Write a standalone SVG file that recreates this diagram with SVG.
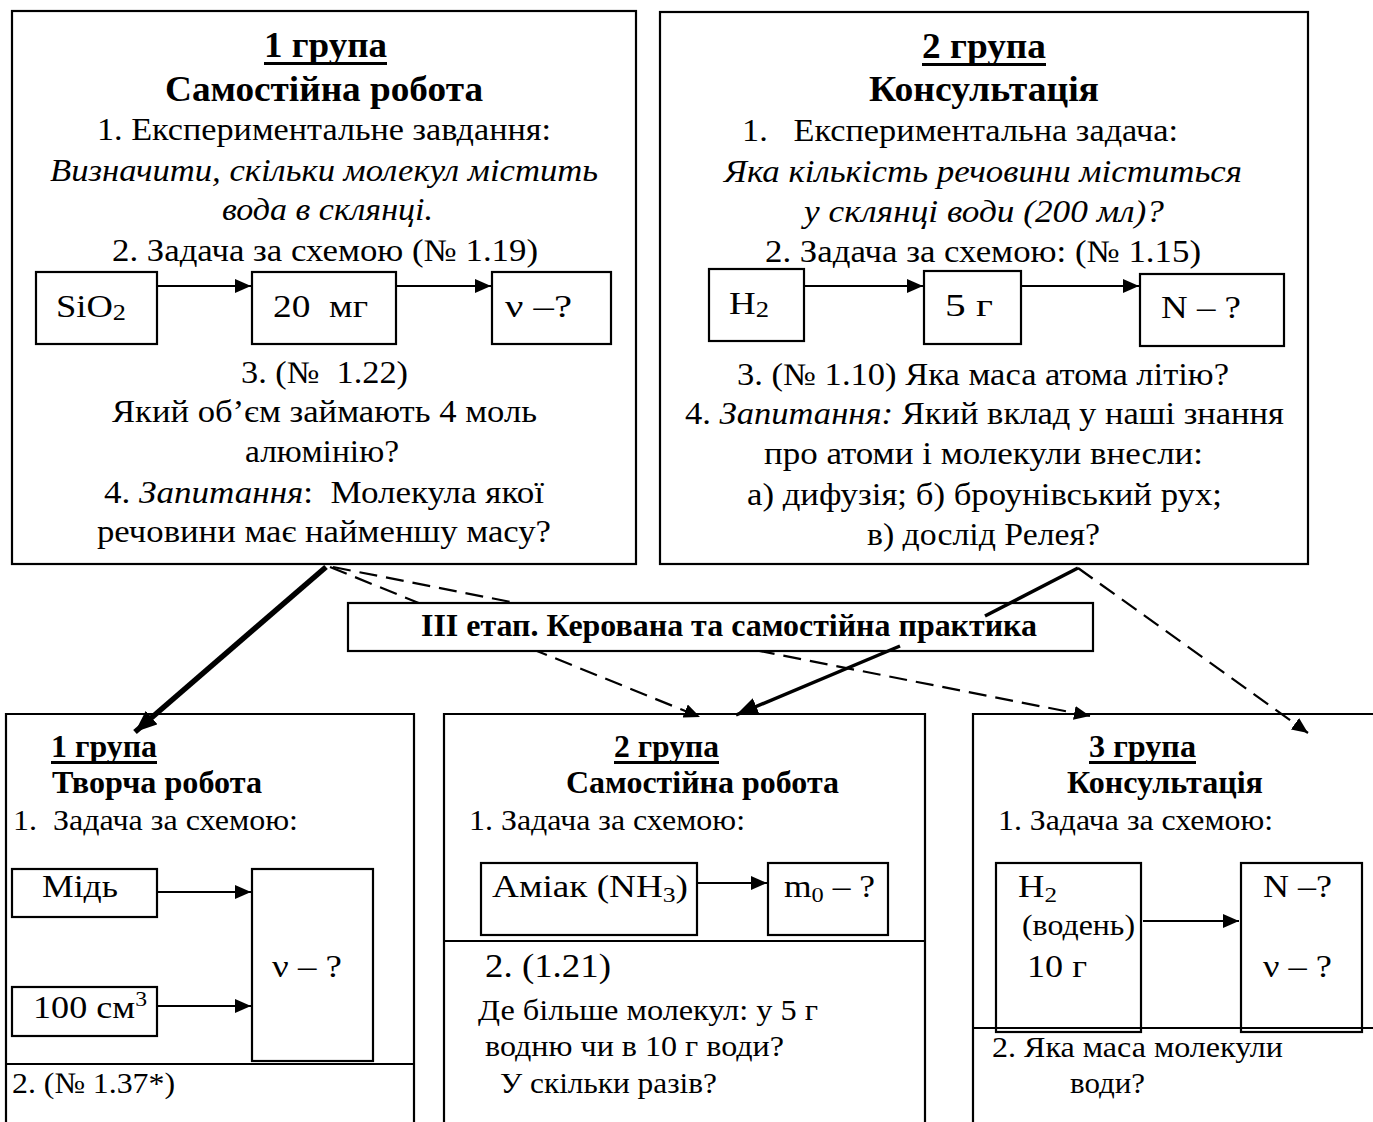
<svg xmlns="http://www.w3.org/2000/svg" width="1373" height="1122" viewBox="0 0 1373 1122">
<style>
text{font-family:"Liberation Serif","Times New Roman",serif;fill:#000}
.t{font-size:31px}
.tb{font-size:36px;font-weight:bold}
.b{font-size:31px;font-weight:bold}
.s{font-size:30px}
.k{font-size:32px}
.i{font-style:italic}
.box{fill:#fff;stroke:#000;stroke-width:2.2}
.ln{fill:none;stroke:#000;stroke-width:2.2}
.ul{stroke:#000;stroke-width:3}
.conn{fill:none;stroke:#000}
</style>
<defs>
<marker id="ah" markerUnits="userSpaceOnUse" markerWidth="18" markerHeight="14" refX="16" refY="7" orient="auto">
<path d="M0,0 L16,7 L0,14 Z" fill="#000"/>
</marker>
<marker id="ahb" markerUnits="userSpaceOnUse" markerWidth="24" markerHeight="18" refX="22" refY="9" orient="auto">
<path d="M0,0 L22,9 L0,18 Z" fill="#000"/>
</marker>
</defs>

<!-- Top box 1 -->
<g id="group1-top">
<rect class="box" x="12" y="11" width="624" height="553"/>
<text class="tb" x="264" y="57" font-size="37" textLength="123" lengthAdjust="spacingAndGlyphs">1 група</text>
<line class="ul" x1="264" y1="63.5" x2="387" y2="63.5"/>
<text class="tb" x="165" y="101" textLength="318" lengthAdjust="spacingAndGlyphs">Самостійна робота</text>
<text class="t" x="97" y="140" textLength="454" lengthAdjust="spacingAndGlyphs">1. Експериментальне завдання:</text>
<text class="t i" x="50" y="181" textLength="548" lengthAdjust="spacingAndGlyphs">Визначити, скільки молекул містить</text>
<text class="t i" x="222" y="220" textLength="211" lengthAdjust="spacingAndGlyphs">вода в склянці.</text>
<text class="t" x="112" y="261" textLength="426" lengthAdjust="spacingAndGlyphs">2. Задача за схемою (№ 1.19)</text>
<rect class="box" x="36" y="272" width="121" height="72"/>
<text class="k" x="56" y="317" textLength="70" lengthAdjust="spacingAndGlyphs">SiO<tspan font-size="23" dy="3">2</tspan></text>
<rect class="box" x="252" y="272" width="144" height="72"/>
<text class="k" x="273" y="317" xml:space="preserve" textLength="95" lengthAdjust="spacingAndGlyphs">20  мг</text>
<rect class="box" x="492" y="272" width="119" height="72"/>
<text class="k" x="505" y="317" textLength="67" lengthAdjust="spacingAndGlyphs">ν –?</text>
<line class="ln" x1="157" y1="286" x2="251" y2="286" marker-end="url(#ah)"/>
<line class="ln" x1="396" y1="286" x2="491" y2="286" marker-end="url(#ah)"/>
<text class="t" x="241" y="383" xml:space="preserve" textLength="167" lengthAdjust="spacingAndGlyphs">3. (№  1.22)</text>
<text class="t" x="112" y="422" textLength="425" lengthAdjust="spacingAndGlyphs">Який об’єм займають 4 моль</text>
<text class="t" x="245" y="462" textLength="154" lengthAdjust="spacingAndGlyphs">алюмінію?</text>
<text class="t" x="104" y="503" xml:space="preserve" textLength="440" lengthAdjust="spacingAndGlyphs">4. <tspan class="i">Запитання</tspan>:  Молекула якої</text>
<text class="t" x="97" y="542" textLength="454" lengthAdjust="spacingAndGlyphs">речовини має найменшу масу?</text>
</g>

<!-- Top box 2 -->
<g id="group2-top">
<rect class="box" x="660" y="12" width="648" height="552"/>
<text class="tb" x="922" y="58" font-size="37" textLength="124" lengthAdjust="spacingAndGlyphs">2 група</text>
<line class="ul" x1="922" y1="64.5" x2="1046" y2="64.5"/>
<text class="tb" x="869" y="101" textLength="230" lengthAdjust="spacingAndGlyphs">Консультація</text>
<text class="t" x="742" y="141" xml:space="preserve" textLength="436" lengthAdjust="spacingAndGlyphs">1.   Експериментальна задача:</text>
<text class="t i" x="724" y="182" textLength="518" lengthAdjust="spacingAndGlyphs">Яка кількість речовини міститься</text>
<text class="t i" x="804" y="222" textLength="360" lengthAdjust="spacingAndGlyphs">у склянці води (200 мл)?</text>
<text class="t" x="765" y="262" textLength="436" lengthAdjust="spacingAndGlyphs">2. Задача за схемою: (№ 1.15)</text>
<rect class="box" x="709" y="269" width="95" height="72"/>
<text class="k" x="729" y="314" textLength="40" lengthAdjust="spacingAndGlyphs">H<tspan font-size="23" dy="3">2</tspan></text>
<rect class="box" x="924" y="271" width="97" height="73"/>
<text class="k" x="945" y="316" textLength="48" lengthAdjust="spacingAndGlyphs">5 г</text>
<rect class="box" x="1140" y="274" width="144" height="72"/>
<text class="k" x="1161" y="318" textLength="80" lengthAdjust="spacingAndGlyphs">N – ?</text>
<line class="ln" x1="804" y1="286" x2="923" y2="286" marker-end="url(#ah)"/>
<line class="ln" x1="1021" y1="286" x2="1139" y2="286" marker-end="url(#ah)"/>
<text class="t" x="737" y="385" textLength="492" lengthAdjust="spacingAndGlyphs">3. (№ 1.10) Яка маса атома літію?</text>
<text class="t" x="685" y="424" textLength="599" lengthAdjust="spacingAndGlyphs">4. <tspan class="i">Запитання:</tspan> Який вклад у наші знання</text>
<text class="t" x="764" y="464" textLength="439" lengthAdjust="spacingAndGlyphs">про атоми і молекули внесли:</text>
<text class="t" x="747" y="505" textLength="475" lengthAdjust="spacingAndGlyphs">а) дифузія; б) броунівський рух;</text>
<text class="t" x="867" y="545" textLength="233" lengthAdjust="spacingAndGlyphs">в) дослід Релея?</text>
</g>

<!-- Connectors (dashed, behind banner) -->
<g id="connectors-back">
<line class="conn" x1="330" y1="567" x2="700" y2="717" stroke-width="2.2" stroke-dasharray="18 9" marker-end="url(#ah)"/>
<line class="conn" x1="333" y1="567" x2="1090" y2="716" stroke-width="2.2" stroke-dasharray="18 9" marker-end="url(#ah)"/>
</g>

<!-- Banner -->
<g id="stage-banner">
<rect class="box" x="348" y="603" width="745" height="48"/>
<text x="421" y="636" font-size="32" font-weight="bold" textLength="616" lengthAdjust="spacingAndGlyphs">ІІІ етап. Керована та самостійна практика</text>
</g>

<!-- Connectors (front) -->
<g id="connectors">
<line class="conn" x1="326" y1="567" x2="135" y2="732" stroke-width="5.5" marker-end="url(#ahb)"/>
<line class="conn" x1="1078" y1="568" x2="985" y2="616" stroke-width="3.5"/>
<line class="conn" x1="900" y1="646" x2="736" y2="715" stroke-width="3.5" marker-end="url(#ahb)"/>
<line class="conn" x1="1078" y1="568" x2="1308" y2="733" stroke-width="2.2" stroke-dasharray="18 9" marker-end="url(#ah)"/>
</g>

<!-- Bottom box A -->
<g id="group1-bottom">
<path class="ln" d="M6,1122 V714 H414 V1122"/>
<line class="ln" x1="6" y1="1064" x2="414" y2="1064"/>
<text class="b" x="51" y="757" textLength="106" lengthAdjust="spacingAndGlyphs">1 група</text>
<line class="ul" x1="51" y1="762.5" x2="157" y2="762.5" stroke-width="2.5"/>
<text class="b" x="52" y="793" textLength="210" lengthAdjust="spacingAndGlyphs">Творча робота</text>
<text class="s" x="13" y="830" xml:space="preserve" textLength="285" lengthAdjust="spacingAndGlyphs">1.  Задача за схемою:</text>
<rect class="box" x="12" y="869" width="145" height="48"/>
<text class="k" x="42" y="897" textLength="76" lengthAdjust="spacingAndGlyphs">Мідь</text>
<rect class="box" x="12" y="987" width="145" height="49"/>
<text class="k" x="33" y="1018" textLength="114" lengthAdjust="spacingAndGlyphs">100 см<tspan font-size="21" dy="-12">3</tspan></text>
<rect class="box" x="252" y="869" width="121" height="192"/>
<text class="k" x="272" y="977" textLength="70" lengthAdjust="spacingAndGlyphs">ν – ?</text>
<line class="ln" x1="157" y1="892" x2="251" y2="892" marker-end="url(#ah)"/>
<line class="ln" x1="157" y1="1006" x2="251" y2="1006" marker-end="url(#ah)"/>
<text class="s" x="12" y="1093" textLength="163" lengthAdjust="spacingAndGlyphs">2. (№ 1.37*)</text>
</g>

<!-- Bottom box B -->
<g id="group2-bottom">
<path class="ln" d="M444,1122 V714 H925 V1122"/>
<line class="ln" x1="444" y1="941" x2="925" y2="941"/>
<text class="b" x="614" y="757" textLength="105" lengthAdjust="spacingAndGlyphs">2 група</text>
<line class="ul" x1="614" y1="762.5" x2="719" y2="762.5" stroke-width="2.5"/>
<text class="b" x="566" y="793" textLength="273" lengthAdjust="spacingAndGlyphs">Самостійна робота</text>
<text class="s" x="469" y="830" textLength="276" lengthAdjust="spacingAndGlyphs">1. Задача за схемою:</text>
<rect class="box" x="481" y="863" width="216" height="72"/>
<text class="k" x="492" y="897" textLength="196" lengthAdjust="spacingAndGlyphs">Аміак (NH<tspan font-size="22" dy="5">3</tspan><tspan dy="-5">)</tspan></text>
<rect class="box" x="768" y="863" width="120" height="72"/>
<text class="k" x="784" y="897" textLength="91" lengthAdjust="spacingAndGlyphs">m<tspan font-size="22" dy="5">0</tspan><tspan dy="-5"> – ?</tspan></text>
<line class="ln" x1="697" y1="883" x2="767" y2="883" marker-end="url(#ah)"/>
<text x="485" y="977" font-size="34" textLength="126" lengthAdjust="spacingAndGlyphs">2. (1.21)</text>
<text class="s" x="478" y="1020" textLength="340" lengthAdjust="spacingAndGlyphs">Де більше молекул: у 5 г</text>
<text class="s" x="485" y="1056" textLength="299" lengthAdjust="spacingAndGlyphs">водню чи в 10 г води?</text>
<text class="s" x="500" y="1093" textLength="217" lengthAdjust="spacingAndGlyphs">У скільки разів?</text>
</g>

<!-- Bottom box C -->
<g id="group3-bottom">
<path class="ln" d="M973,1122 V714 H1373"/>
<line class="ln" x1="973" y1="1028" x2="1373" y2="1028"/>
<text class="b" x="1089" y="757" textLength="107" lengthAdjust="spacingAndGlyphs">3 група</text>
<line class="ul" x1="1089" y1="762.5" x2="1196" y2="762.5" stroke-width="2.5"/>
<text class="b" x="1067" y="793" textLength="196" lengthAdjust="spacingAndGlyphs">Консультація</text>
<text class="s" x="998" y="830" textLength="275" lengthAdjust="spacingAndGlyphs">1. Задача за схемою:</text>
<rect class="box" x="996" y="863" width="145" height="169" style="fill:none"/>
<text class="k" x="1018" y="897" textLength="39" lengthAdjust="spacingAndGlyphs">H<tspan font-size="22" dy="5">2</tspan></text>
<text class="s" x="1022" y="935" textLength="113" lengthAdjust="spacingAndGlyphs">(водень)</text>
<text class="k" x="1027" y="977" textLength="60" lengthAdjust="spacingAndGlyphs">10 г</text>
<rect class="box" x="1241" y="863" width="121" height="169" style="fill:none"/>
<text class="k" x="1263" y="897" textLength="69" lengthAdjust="spacingAndGlyphs">N –?</text>
<text class="k" x="1263" y="977" textLength="69" lengthAdjust="spacingAndGlyphs">ν – ?</text>
<line class="ln" x1="1143" y1="921" x2="1239" y2="921" marker-end="url(#ah)"/>
<text class="s" x="992" y="1057" textLength="291" lengthAdjust="spacingAndGlyphs">2. Яка маса молекули</text>
<text class="s" x="1070" y="1093" textLength="75" lengthAdjust="spacingAndGlyphs">води?</text>
</g>
</svg>
